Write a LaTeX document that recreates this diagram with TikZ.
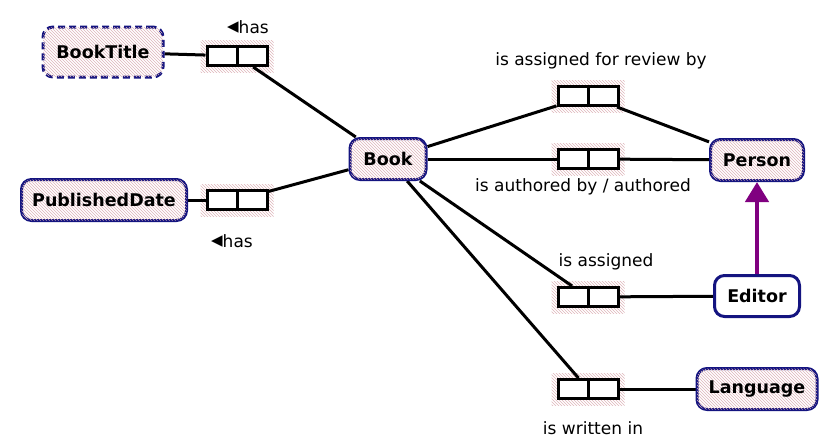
\documentclass[tikz,border=0pt]{standalone}
\usepackage{fontspec}
\setmainfont{DejaVu Sans}
\usetikzlibrary{arrows.meta,patterns}

\definecolor{ormblue}{RGB}{20,20,128}
\definecolor{hatchpink}{RGB}{222,180,186}
\definecolor{subpurple}{RGB}{128,0,128}

\pgfdeclarelayer{hatch}
\pgfdeclarelayer{edges}
\pgfsetlayers{hatch,edges,main}

\newcommand{\revtri}{{\fontsize{23pt}{20pt}\selectfont ◂}}

\tikzset{
  objtype/.style={draw=ormblue, line width=3pt, rounded corners=10pt, fill=white,
    font=\fontsize{17.5pt}{20pt}\selectfont\bfseries, inner xsep=4pt,
    minimum height=41pt},
  hatched/.style={postaction={pattern=north west lines, pattern color=hatchpink}},
  valtype/.style={objtype, dash pattern=on 7pt off 4pt, minimum height=50pt},
  role/.style={draw, line width=3pt, fill=white, inner sep=0pt,
    minimum width=60pt, minimum height=19pt,
    path picture={\draw[line width=3pt] (path picture bounding box.north)
      -- (path picture bounding box.south);}},
  lbl/.style={font=\fontsize{17pt}{20pt}\selectfont, inner sep=0pt},
  conn/.style={line width=3pt},
}

\begin{document}
\begin{tikzpicture}[x=1pt, y=-1pt]
  \useasboundingbox (0,0) rectangle (831,447);

  % object types
  \node[valtype, hatched, minimum width=120pt] (booktitle) at (103, 52) {BookTitle};
  \node[objtype, hatched, minimum width=165pt] (pubdate) at (104, 200) {PublishedDate};
  \node[objtype, hatched, minimum width=76pt] (book) at (388, 159) {Book};
  \node[objtype, hatched, minimum width=93pt] (person) at (757, 160) {Person};
  \node[objtype, minimum width=85pt] (editor) at (757, 296) {Editor};
  \node[objtype, hatched, minimum width=120pt] (language) at (757, 389) {Language};

  % fact types
  \node[role] (rTitle) at (237, 56) {};
  \node[role] (rDate) at (237, 200) {};
  \node[role] (rReview) at (588, 96) {};
  \node[role] (rAuthor) at (588, 159) {};
  \node[role] (rAssign) at (588, 297) {};
  \node[role] (rWritten) at (588, 389) {};

  % readings
  \node[lbl] (lTitle) at (248, 27) {\revtri has};
  \node[lbl] (lDate) at (232, 241) {\revtri has};
  \node[lbl] (lReview) at (601, 61) {is assigned for review by};
  \node[lbl] (lAuthor) at (583, 187) {is authored by / authored};
  \node[lbl] (lAssign) at (606, 262) {is assigned};
  \node[lbl] (lWritten) at (593, 428) {is written in};

  \begin{pgfonlayer}{hatch}
    \foreach \r in {rTitle, rDate, rReview, rAuthor, rAssign, rWritten}
      \path[pattern=north west lines, pattern color=hatchpink]
        ([shift={(-5pt,-5pt)}]\r.south west) rectangle ([shift={(5pt,5pt)}]\r.north east);
  \end{pgfonlayer}

  \begin{pgfonlayer}{edges}
    \draw[conn] (booktitle) -- (rTitle);
    \draw[conn] (rTitle) -- (book);
    \draw[conn] (pubdate) -- (rDate);
    \draw[conn] (rDate) -- (book);
    \draw[conn] (book) -- (rReview);
    \draw[conn] (rReview) -- (person);
    \draw[conn] (book) -- (rAuthor);
    \draw[conn] (rAuthor) -- (person);
    \draw[conn] (book) -- (rAssign);
    \draw[conn] (rAssign) -- (editor);
    \draw[conn] (book) -- (rWritten);
    \draw[conn] (rWritten) -- (language);
  \end{pgfonlayer}

  % subtype
  \draw[subpurple, line width=4.5pt, -{Triangle[length=20pt, width=23pt]}] (editor) -- (person);
\end{tikzpicture}
\end{document}
